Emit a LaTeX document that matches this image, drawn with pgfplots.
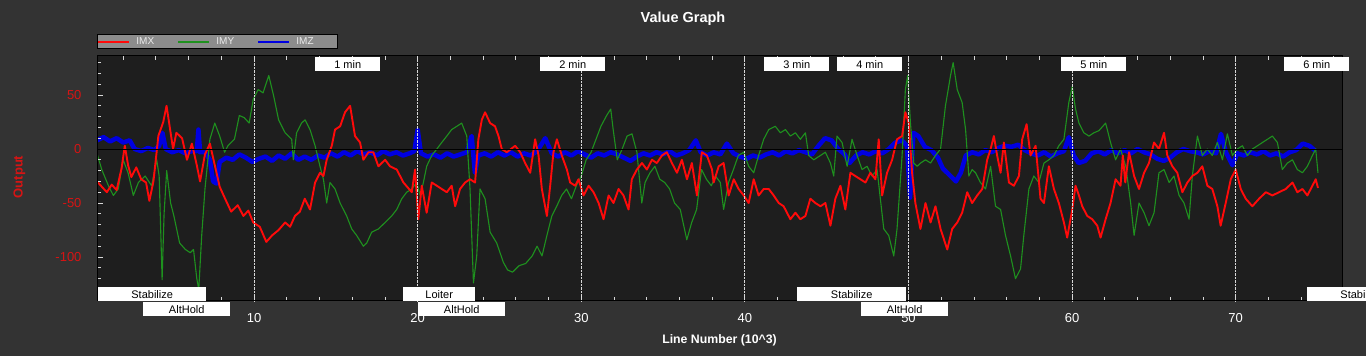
\documentclass[border=0pt]{standalone}
\usepackage{fontspec}
\setmainfont{Liberation Sans}
\usepackage{pgfplots}
\pgfplotsset{compat=1.18}
\definecolor{bgout}{RGB}{51,51,51}
\definecolor{bgplot}{RGB}{30,30,30}
\definecolor{imx}{RGB}{255,10,10}
\definecolor{imy}{RGB}{30,145,30}
\definecolor{imz}{RGB}{0,0,225}
\definecolor{lblred}{RGB}{215,20,20}
\definecolor{leggray}{RGB}{140,140,140}
\definecolor{tickgray}{RGB}{215,215,215}
\begin{document}
\begin{tikzpicture}[x=1pt,y=1pt]
\fill[bgout] (0,0) rectangle (1366,356);
\useasboundingbox (0,0) rectangle (1366,356);
\begin{axis}[
  at={(97pt,55pt)}, anchor=south west,
  scale only axis, width=1245pt, height=245pt,
  xmin=0.4, xmax=76.5, ymin=-140.7, ymax=86.1,
  axis background/.style={fill=bgplot},
  axis line style={draw=black, line width=1pt},
  xtick={10,20,30,40,50,60,70}, xticklabels={10,20,30,40,50,60,70},
  minor xtick={2,4,...,76},
  ytick={-100,-50,0,50}, yticklabels={-100,-50,0,50},
  minor ytick={-140,-130,...,80},
  xtick pos=both, ytick pos=left,
  tick align=inside,
  major tick length=6pt, minor tick length=4pt,
  tick style={draw=tickgray, line width=0.8pt},
  xmajorgrids,
  major x grid style={densely dotted, draw=tickgray, line width=1pt},
  extra y ticks={0}, extra y tick labels={},
  extra y tick style={grid=major, major grid style={solid, draw=black, line width=1pt}, tick style={draw=none}},
  xticklabel style={text=white, font=\fontsize{13}{13}\selectfont, yshift=-9pt},
  yticklabel style={text=lblred, font=\fontsize{13}{13}\selectfont, xshift=-12pt},
  axis on top,
  legend columns=3, reverse legend,
  legend cell align=left,
  legend style={at={(0,1)}, anchor=south west, yshift=7pt,
    fill=leggray, draw=black, line width=0.8pt,
    inner xsep=0pt, inner ysep=2.9pt,
    nodes={inner sep=0pt},
    font=\fontsize{10}{10}\selectfont, text=white!92!black,
    /tikz/every odd column/.append style={column sep=6pt}},
  legend image code/.code={\draw[#1, line width=2pt] (0pt,0pt) -- (31pt,0pt);},
]
\addplot[draw=imz, line width=4.5pt, line join=round] coordinates {
(0.4,8)(0.8,11)(1.2,7)(1.6,10)(2.0,6)(2.4,8)(2.7,0)(3.1,-2)(3.5,1)(3.9,-1)(4.2,3)(4.4,15)(4.6,0)(5.0,-3)(5.4,-1)(5.8,-4)(6.2,-2)(6.5,-2)(6.6,18)(6.7,-3)(7.0,-3)(7.3,-10)(7.5,-30)(7.7,-32)(7.9,-12)(8.3,-8)(8.7,-10)(9.1,-5)(9.5,-8)(9.9,-12)(10.3,-9)(10.7,-7)(11.1,-11)(11.5,-6)(11.9,-9)(12.3,-4)(12.7,-10)(13.1,-7)(13.5,-10)(13.9,-6)(14.3,-8)(14.7,-4)(15.1,-7)(15.5,-3)(15.9,-6)(16.3,-2)(16.7,-5)(17.1,-3)(17.5,-6)(17.9,-2)(18.3,-5)(18.7,-3)(19.1,-6)(19.5,-4)(19.8,-2)(20.0,18)(20.2,-4)(20.6,-7)(21.0,-5)(21.4,-8)(21.8,-4)(22.2,-7)(22.6,-5)(23.0,-3)(23.3,12)(23.5,-22)(23.7,-6)(24.1,-4)(24.5,-7)(24.9,-3)(25.3,-6)(25.7,-3)(26.1,-7)(26.5,-4)(26.9,-6)(27.3,-2)(27.8,10)(28.2,-4)(28.6,-7)(29.0,-3)(29.4,-6)(29.8,-2)(30.2,-5)(30.6,-8)(31.0,-4)(31.4,-6)(31.8,-3)(32.2,-5)(32.6,-8)(33.0,-11)(33.4,-7)(33.8,-4)(34.2,-6)(34.6,-3)(35.0,-5)(35.4,-2)(35.8,-6)(36.2,-4)(36.6,-1)(37.0,8)(37.3,-3)(37.7,-6)(38.1,-3)(38.5,-5)(38.9,5)(39.3,-4)(39.7,-7)(40.1,-9)(40.5,-6)(40.9,-8)(41.3,-5)(41.7,-3)(42.1,-6)(42.5,-2)(42.9,-4)(43.3,-1)(43.7,-3)(44.1,-5)(44.5,3)(44.9,10)(45.3,8)(45.7,0)(46.1,-5)(46.4,-13)(46.8,-6)(47.2,-3)(47.6,-5)(48.0,-2)(48.4,-4)(48.8,0)(49.2,6)(49.6,8)(49.9,3)(50.1,-45)(50.3,15)(50.6,12)(51.0,2)(51.4,-1)(51.8,-8)(52.1,-18)(52.5,-24)(52.9,-30)(53.2,-22)(53.5,-6)(53.9,-3)(54.3,-5)(54.7,-1)(55.1,-3)(55.5,1)(55.9,3)(56.3,2)(56.7,4)(57.1,-1)(57.5,-4)(57.9,-6)(58.3,-3)(58.7,-7)(59.1,-4)(59.5,-2)(59.8,11)(60.1,-6)(60.4,-13)(60.8,-11)(61.2,-4)(61.6,-2)(62.0,-5)(62.4,-1)(62.8,-4)(63.2,-1)(63.6,-4)(64.0,0)(64.4,-3)(64.8,-5)(65.2,-9)(65.6,-11)(66.0,-8)(66.4,-3)(66.8,0)(67.2,-2)(67.6,-3)(68.0,-5)(68.4,-2)(68.8,-4)(69.1,14)(69.4,-3)(69.8,-15)(70.1,-4)(70.5,-6)(70.9,-3)(71.3,-5)(71.7,-2)(72.1,-6)(72.5,-4)(72.9,-7)(73.3,-3)(73.7,-1)(74.1,5)(74.5,3)(74.9,-2)
};
\addlegendentry{\makebox[41pt][l]{IMZ}}
\addplot[draw=imy, line width=1.1pt, line join=round] coordinates {
(0.38,-3)(0.69,-19)(1.1,-34)(1.4,-43)(1.7,-37)(2.0,-10)(2.3,-22)(2.62,-43)(2.93,-31)(3.34,-25)(3.74,-34)(4.05,-10)(4.2,-25)(4.38,-121)(4.5,-60)(4.66,-20)(4.9,-50)(5.1,-62)(5.45,-87)(5.8,-93)(6.1,-96)(6.3,-93)(6.5,-120)(6.62,-130)(6.8,-80)(7.0,-37)(7.3,9)(7.6,24)(7.9,12)(8.2,-3)(8.4,3)(8.8,9)(9.1,31)(9.4,29)(9.7,24)(9.95,46)(10.25,55)(10.55,52)(10.9,68)(11.2,49)(11.5,27)(11.9,15)(12.3,9)(12.4,-10)(12.6,15)(12.9,24)(13.12,27)(13.42,18)(13.73,3)(14.03,-16)(14.24,-28)(14.44,-50)(14.64,-31)(14.95,-37)(15.26,-50)(15.66,-62)(15.97,-74)(16.27,-80)(16.68,-90)(16.89,-87)(17.19,-77)(17.6,-74)(18.01,-68)(18.41,-62)(18.72,-56)(19.03,-46)(19.33,-40)(19.64,-37)(19.94,-31)(20.15,-43)(20.35,-31)(20.55,-16)(20.86,-6)(21.17,0)(21.47,6)(21.78,12)(22.08,18)(22.39,21)(22.69,24)(23.0,12)(23.2,-37)(23.41,-124)(23.61,-99)(23.81,-37)(24.12,-46)(24.43,-77)(24.83,-87)(25.24,-105)(25.5,-112)(25.8,-114)(26.2,-108)(26.6,-106)(27.0,-99)(27.3,-90)(27.6,-99)(27.9,-80)(28.2,-62)(28.5,-53)(28.8,-43)(29.1,-37)(29.4,-46)(29.7,-34)(30.0,-25)(30.3,-10)(30.6,-3)(30.9,9)(31.2,21)(31.55,31)(31.8,37)(31.95,18)(32.2,-10)(32.5,0)(32.8,12)(33.1,14)(33.4,-3)(33.7,-50)(33.9,-31)(34.2,-22)(34.5,-16)(34.8,-28)(35.1,-31)(35.4,-37)(35.7,-50)(36.05,-56)(36.45,-84)(36.75,-68)(37.05,-56)(37.35,-19)(37.65,-28)(37.95,-34)(38.2,-25)(38.5,-31)(38.7,-56)(39.0,-31)(39.3,-19)(39.6,-6)(39.93,-3)(40.23,-16)(40.54,-22)(40.84,-6)(41.15,9)(41.46,18)(41.86,21)(42.17,15)(42.48,18)(42.78,12)(43.09,15)(43.39,9)(43.7,15)(43.9,-6)(44.21,-10)(44.62,-6)(44.92,-3)(45.23,-13)(45.43,-25)(45.63,12)(45.94,6)(46.25,-16)(46.55,9)(46.86,-6)(47.16,-19)(47.47,-16)(47.77,-25)(48.08,-19)(48.28,-46)(48.49,-74)(48.79,-80)(49.1,-99)(49.3,-74)(49.61,-6)(49.81,55)(49.95,68)(50.12,24)(50.32,-13)(50.53,-16)(50.74,-13)(51.04,-10)(51.35,-13)(51.65,-6)(51.96,0)(52.26,40)(52.57,68)(52.73,80)(52.98,55)(53.28,43)(53.49,18)(53.69,-25)(53.89,-19)(54.1,-22)(54.4,-31)(54.71,-37)(55.02,-16)(55.32,-53)(55.63,-56)(55.93,-80)(56.24,-99)(56.54,-120)(56.85,-111)(57.05,-80)(57.36,-37)(57.66,-25)(57.97,-31)(58.28,-13)(58.58,-10)(58.89,-6)(59.19,3)(59.5,9)(59.8,43)(60.01,58)(60.21,37)(60.42,24)(60.72,15)(61.03,12)(61.33,15)(61.64,17)(62.05,24)(62.35,6)(62.66,-10)(62.96,0)(63.28,-16)(63.58,-50)(63.79,-80)(64.09,-50)(64.4,-59)(64.7,-71)(65.01,-59)(65.31,-22)(65.62,-19)(65.93,-31)(66.23,-25)(66.54,-43)(66.84,-50)(67.15,-65)(67.35,-25)(67.66,12)(67.96,-6)(68.27,0)(68.57,-6)(68.88,6)(69.19,-10)(69.49,14)(69.8,-6)(70.1,0)(70.41,3)(70.71,-6)(71.02,0)(71.33,3)(71.63,6)(71.94,9)(72.24,12)(72.55,6)(72.85,-19)(73.16,-13)(73.47,-10)(73.77,-19)(74.08,-22)(74.38,-16)(74.69,-6)(74.89,0)(75.03,-22)
};
\addlegendentry{\makebox[41pt][l]{IMY}}
\addplot[draw=imx, line width=1.9pt, line join=round] coordinates {
(0.4,-30)(0.7,-35)(1.0,-40)(1.3,-33)(1.6,-38)(1.9,-18)(2.1,3)(2.3,-15)(2.5,-26)(2.8,-17)(3.1,-28)(3.4,-31)(3.6,-48)(3.85,-30)(4.15,12)(4.45,25)(4.65,40)(4.85,20)(5.05,0)(5.25,15)(5.6,10)(5.9,-10)(6.2,5)(6.5,-15)(6.7,-30)(7.0,-5)(7.3,5)(7.6,-15)(7.9,-35)(8.2,-45)(8.6,-58)(9.0,-52)(9.35,-62)(9.65,-57)(9.95,-68)(10.35,-72)(10.75,-86)(11.1,-80)(11.5,-75)(11.9,-68)(12.2,-72)(12.5,-62)(12.8,-58)(13.1,-46)(13.42,-56)(13.73,-31)(14.03,-22)(14.24,-25)(14.44,-10)(14.75,3)(14.95,18)(15.26,21)(15.56,34)(15.87,40)(16.17,12)(16.48,6)(16.68,-10)(16.99,-3)(17.29,-3)(17.6,-16)(18.01,-10)(18.31,-16)(18.72,-19)(19.13,-31)(19.64,-40)(19.84,-19)(20.04,-65)(20.25,-34)(20.55,-59)(20.86,-31)(21.17,-34)(21.47,-37)(21.78,-40)(22.08,-34)(22.29,-53)(22.59,-37)(22.9,-31)(23.2,-28)(23.51,-31)(23.71,9)(23.92,27)(24.12,34)(24.43,24)(24.73,21)(24.94,12)(25.14,0)(25.45,-3)(25.96,3)(26.27,-3)(26.57,-13)(26.88,-22)(27.18,9)(27.39,-6)(27.59,-37)(27.9,-62)(28.1,-34)(28.3,-3)(28.51,9)(28.81,-6)(29.12,-19)(29.32,-31)(29.63,-34)(29.83,-28)(30.14,-43)(30.45,-34)(30.75,-40)(31.06,-50)(31.36,-65)(31.67,-43)(31.97,-50)(32.28,-37)(32.58,-43)(32.89,-56)(33.09,-28)(33.4,-19)(33.71,-13)(34.01,-19)(34.32,-10)(34.62,-13)(34.93,-6)(35.23,-3)(35.54,-13)(35.85,-22)(36.15,-10)(36.46,-28)(36.76,-13)(37.07,-43)(37.37,-3)(37.68,-6)(37.99,-19)(38.09,-31)(38.4,-16)(38.7,-13)(39.01,-43)(39.32,-28)(39.62,-37)(39.93,-43)(40.23,-50)(40.54,-28)(40.84,-43)(41.15,-37)(41.46,-37)(41.76,-43)(42.07,-50)(42.37,-53)(42.78,-65)(43.09,-59)(43.39,-65)(43.7,-62)(44.0,-46)(44.31,-50)(44.62,-53)(44.92,-50)(45.23,-71)(45.53,-46)(45.84,-34)(46.14,-56)(46.45,-22)(46.75,-25)(47.06,-28)(47.37,-31)(47.67,-22)(47.98,-28)(48.18,9)(48.39,-43)(48.69,-22)(49.0,-10)(49.3,9)(49.61,12)(49.81,34)(50.02,24)(50.22,-22)(50.42,-50)(50.73,-74)(51.04,-50)(51.35,-68)(51.65,-53)(51.96,-74)(52.37,-93)(52.67,-74)(52.98,-68)(53.28,-59)(53.59,-40)(53.89,-50)(54.2,-43)(54.51,-37)(54.81,-10)(55.02,0)(55.22,12)(55.42,-6)(55.63,-22)(55.83,6)(56.14,-31)(56.44,-34)(56.75,-25)(56.95,9)(57.22,23)(57.46,-6)(57.77,3)(58.07,-46)(58.28,-50)(58.58,-16)(58.89,-37)(59.19,-50)(59.5,-68)(59.7,-82)(60.01,-56)(60.21,-34)(60.42,-43)(60.62,-53)(60.93,-62)(61.23,-65)(61.54,-71)(61.74,-82)(62.05,-65)(62.35,-50)(62.66,-28)(62.96,-34)(63.1,-6)(63.25,-31)(63.48,-3)(63.79,-25)(64.09,-37)(64.4,-22)(64.7,-13)(65.01,6)(65.31,0)(65.62,15)(65.82,-6)(66.13,-16)(66.43,-22)(66.74,-40)(67.05,-31)(67.35,-25)(67.66,-22)(67.96,-16)(68.27,-34)(68.57,-37)(68.88,-53)(69.08,-71)(69.39,-50)(69.7,-28)(70.0,-19)(70.31,-37)(70.61,-46)(71.02,-53)(71.43,-46)(71.84,-40)(72.24,-43)(72.65,-40)(73.06,-37)(73.47,-31)(73.77,-40)(74.08,-37)(74.38,-43)(74.69,-34)(74.89,-28)(75.03,-36)
};
\addlegendentry{\makebox[41pt][l]{IMX}}
\end{axis}
% titles
\node[anchor=base, text=white, font=\bfseries\fontsize{14.5}{14.5}\selectfont] at (683,333) {Value Graph};
\node[anchor=base, text=white, font=\bfseries\fontsize{12.3}{12.3}\selectfont] at (719.5,12) {Line Number (10\^{}3)};
\node[anchor=base, rotate=90, text=lblred, font=\bfseries\fontsize{13}{13}\selectfont] at (22.5,179) {Output};
% minute markers
\tikzset{mbox/.style={fill=white, inner sep=0pt, minimum height=14pt, font=\fontsize{11}{11}\selectfont, text=black, anchor=north west}}
\node[mbox, minimum width=65pt] at (315,299) {1 min};
\node[mbox, minimum width=65pt] at (540,299) {2 min};
\node[mbox, minimum width=65pt] at (764,299) {3 min};
\node[mbox, minimum width=65pt] at (837,299) {4 min};
\node[mbox, minimum width=65pt] at (1061,299) {5 min};
\node[mbox, minimum width=65pt] at (1284,299) {6 min};
% flight modes
\node[mbox, minimum width=108pt] at (98,69) {Stabilize};
\node[mbox, minimum width=72pt] at (403,69) {Loiter};
\node[mbox, minimum width=109pt] at (797,69) {Stabilize};
\node[mbox, minimum width=108pt] at (1307,69) {Stabilize};
\node[mbox, minimum width=87pt] at (143,54) {AltHold};
\node[mbox, minimum width=87pt] at (418,54) {AltHold};
\node[mbox, minimum width=87pt] at (861,54) {AltHold};
\end{tikzpicture}
\end{document}
